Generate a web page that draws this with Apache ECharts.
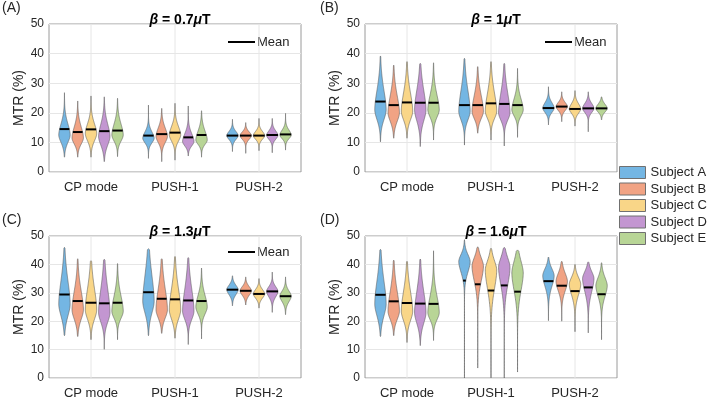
<!DOCTYPE html>
<html><head><meta charset="utf-8">
<script src="https://cdn.jsdelivr.net/npm/echarts@6/dist/echarts.min.js"></script>
<style>html,body{margin:0;padding:0;background:#fff}#c{width:709px;height:400px}</style>
</head><body><div id="c"></div>
<script>
const categories = ['CP mode', 'PUSH-1', 'PUSH-2'];
const subjects = ['Subject A', 'Subject B', 'Subject C', 'Subject D', 'Subject E'];
const subjectColors = ['#74b6e3', '#f1a384', '#f9d688', '#c396d1', '#b8d596'];
const panelLabels = ['(A)', '(B)', '(C)', '(D)'];
const panelB1 = ['0.7', '1', '1.3', '1.6'];
const yMin = 0, yMax = 50, yStep = 10;

// rows: [group, subject, min, halfLow, mode, halfHigh, max, mean]
const violinsA = [
  [0,0, 5.0, 9.5,12.5,17.0,26.8,14.5],
  [0,1, 5.0, 9.0,11.5,16.0,24.0,13.5],
  [0,2, 5.0,10.0,13.0,17.0,25.7,14.4],
  [0,3, 3.5, 8.5,12.0,17.0,25.4,13.8],
  [0,4, 5.2,10.0,12.5,17.0,24.9,14.0],
  [1,0, 4.6, 9.5,11.4,14.0,22.6,12.3],
  [1,1, 3.5, 9.5,12.0,15.5,21.5,12.8],
  [1,2, 4.0,10.0,12.5,16.0,23.2,13.3],
  [1,3, 5.4, 8.5,10.3,13.5,22.3,11.7],
  [1,4, 5.0, 9.0,10.8,14.5,20.7,12.5],
  [2,0, 6.9,10.7,12.3,14.0,17.8,12.3],
  [2,1, 6.3,10.8,12.3,13.8,16.7,12.3],
  [2,2, 7.2,10.8,12.3,14.0,18.1,12.3],
  [2,3, 6.5,10.8,12.4,14.2,18.1,12.5],
  [2,4, 7.4,11.0,12.5,14.5,19.8,12.7]
];
const violinsB = [
  [0,0,10.2,17.0,21.0,29.0,39.2,23.8],
  [0,1,11.4,16.5,20.0,27.0,36.1,22.6],
  [0,2,11.4,17.0,20.5,28.0,37.3,23.5],
  [0,3, 8.6,16.5,21.0,29.0,36.7,23.4],
  [0,4,10.8,18.0,21.0,27.0,36.9,23.4],
  [1,0, 9.1,17.0,20.5,29.0,38.4,22.6],
  [1,1,13.1,17.5,20.5,27.0,35.6,22.6],
  [1,2,10.8,17.5,20.5,28.0,37.3,23.2],
  [1,3, 8.8,17.0,20.0,28.0,36.7,23.0],
  [1,4,11.7,18.5,21.0,25.5,35.0,22.6],
  [2,0,15.9,19.8,21.6,23.8,28.8,21.6],
  [2,1,17.0,20.5,22.1,23.8,27.1,22.1],
  [2,2,15.5,19.5,21.3,23.5,27.5,21.3],
  [2,3,13.6,19.8,21.5,23.5,27.1,21.5],
  [2,4,17.6,20.0,21.5,23.2,25.4,21.5]
];
const violinsC = [
  [0,0,14.9,21.0,26.0,36.0,46.0,29.4],
  [0,1,14.6,20.0,24.0,32.0,42.0,27.1],
  [0,2,13.5,20.0,24.0,33.0,41.3,26.5],
  [0,3,10.1,19.0,23.0,33.0,41.8,26.3],
  [0,4,13.5,20.5,23.5,30.0,40.3,26.5],
  [1,0,14.9,22.0,27.0,38.0,45.5,30.2],
  [1,1,15.7,20.5,24.0,33.0,42.0,27.9],
  [1,2,14.0,20.0,24.0,33.0,42.8,27.7],
  [1,3,11.8,20.0,23.5,33.0,42.4,27.3],
  [1,4,13.8,22.0,25.0,30.0,38.7,27.1],
  [2,0,25.4,29.0,31.1,33.0,36.0,31.1],
  [2,1,25.7,28.8,30.7,32.5,35.6,30.7],
  [2,2,24.6,27.8,29.6,31.5,35.0,29.6],
  [2,3,23.1,28.2,30.5,32.5,37.3,30.5],
  [2,4,22.3,26.5,28.8,31.0,35.6,28.8]
];
const violinsD = [
  [0,0,14.6,21.0,26.0,36.0,45.3,29.3],
  [0,1,14.9,20.0,23.5,32.0,41.5,27.0],
  [0,2,12.5,19.5,23.5,32.0,41.1,26.4],
  [0,3,11.4,18.5,23.0,32.0,41.9,26.2],
  [0,4,13.2,20.0,23.0,30.0,44.8,26.1],
  [1,0, 0.0,36.5,41.0,44.0,48.7,34.3],
  [1,1, 3.5,33.0,39.4,43.0,46.2,33.0],
  [1,2, 0.0,30.0,38.0,42.0,45.7,30.8],
  [1,3, 0.0,31.5,39.0,43.0,46.0,32.6],
  [1,4, 2.1,29.5,37.0,42.0,45.1,30.4],
  [2,0,20.2,31.5,36.0,39.0,42.6,34.1],
  [2,1,20.0,30.0,34.0,37.5,41.1,32.5],
  [2,2,16.3,28.5,33.0,36.0,40.0,30.6],
  [2,3,15.9,29.5,35.0,38.0,40.9,31.9],
  [2,4,13.5,28.0,32.5,36.0,40.6,29.5]
];
const panels = [violinsA, violinsB, violinsC, violinsD];

const FONT = 'Liberation Sans, Arial, Helvetica, sans-serif';
const TXT = '#262626';
const grids = [
  {left: 49, top: 24, width: 252, height: 148},
  {left: 365, top: 24, width: 252, height: 148},
  {left: 49, top: 236, width: 252, height: 147},
  {left: 365, top: 236, width: 252, height: 147}
];

function profile(v, hl, md, hh) {
  const d = v - md;
  const s = d < 0 ? (md - hl) : (hh - md);
  return Math.exp(-Math.LN2 * Math.pow(Math.abs(d) / s, 1.8));
}

function makeViolinRender(sIdx) {
  return function (params, api) {
    const g = api.value(0), mn = api.value(1), hl = api.value(2), md = api.value(3),
          hh = api.value(4), mx = api.value(5), mean = api.value(6);
    const base = api.coord([g, 0]);
    const band = api.size([1, 0])[0];
    const cx = base[0] + (sIdx - 2) * 0.158 * band;
    const hw = 0.068 * band;
    const N = 90, right = [], left = [];
    for (let i = 0; i <= N; i++) {
      const v = mn + (mx - mn) * i / N;
      const w = (i === 0 || i === N) ? 0 : profile(v, hl, md, hh);
      const py = api.coord([g, v])[1];
      right.push([cx + hw * w, py]);
      left.push([cx - hw * w, py]);
    }
    const pts = right.concat(left.reverse());
    const wm = hw * profile(mean, hl, md, hh);
    const my = api.coord([g, mean])[1];
    return {
      type: 'group',
      children: [
        {type: 'polygon', shape: {points: pts}, style: {fill: subjectColors[sIdx], stroke: '#5e5e5e', lineWidth: 0.6}},
        {type: 'line', shape: {x1: cx - wm, y1: my, x2: cx + wm, y2: my}, style: {stroke: '#000', lineWidth: 2}}
      ]
    };
  };
}

function vgridRender(params, api) {
  const p0 = api.coord([api.value(0), yMin]);
  const p1 = api.coord([api.value(0), yMax]);
  return {type: 'line', shape: {x1: p0[0], y1: p0[1], x2: p1[0], y2: p1[1]}, style: {stroke: '#e6e6e6', lineWidth: 1}};
}

const xAxis = [], yAxis = [], series = [], title = [];
grids.forEach((g, p) => {
  xAxis.push({
    type: 'category', gridIndex: p, data: categories,
    axisLine: {show: false}, axisTick: {show: false}, splitLine: {show: false},
    axisLabel: {fontSize: 13, color: TXT, fontFamily: FONT, margin: 9}
  });
  yAxis.push({
    type: 'value', gridIndex: p, min: yMin, max: yMax, interval: yStep,
    axisLine: {show: false}, axisTick: {show: false},
    splitLine: {lineStyle: {color: '#e6e6e6', width: 1}},
    axisLabel: {fontSize: 12, color: TXT, fontFamily: FONT, margin: 5},
    name: 'MTR (%)', nameLocation: 'middle', nameGap: 23,
    nameTextStyle: {fontSize: 14, color: TXT, fontFamily: FONT}
  });
  series.push({
    type: 'custom', name: 'vgrid' + p, xAxisIndex: p, yAxisIndex: p, silent: true, z: 1,
    data: categories.map((c, i) => [i, 0]), renderItem: vgridRender
  });
  subjects.forEach((s, sIdx) => {
    series.push({
      type: 'custom', name: s, xAxisIndex: p, yAxisIndex: p, z: 3, clip: true,
      itemStyle: {color: subjectColors[sIdx]},
      encode: {x: 0, y: [1, 5]},
      data: panels[p].filter(r => r[1] === sIdx).map(r => [r[0], r[2], r[3], r[4], r[5], r[6], r[7]]),
      renderItem: makeViolinRender(sIdx)
    });
  });
  title.push({
    text: '{g|β} = ' + panelB1[p] + '{g|μ}T',
    left: g.left + g.width / 2, top: g.top - 16, textAlign: 'center',
    textStyle: {
      fontSize: 14, fontWeight: 'bold', color: '#000', fontFamily: FONT,
      rich: {g: {fontSize: 14, fontStyle: 'italic', fontWeight: 'bold', color: '#000', fontFamily: FONT}}
    }
  });
});

const graphic = [];
const labelPos = [[2, 9], [320, 9], [2, 221], [320, 221]];
panelLabels.forEach((t, i) => {
  graphic.push({type: 'text', left: labelPos[i][0], top: labelPos[i][1] - 8,
    style: {text: t, fontSize: 14, fill: TXT, fontFamily: FONT}});
});
const meanLeg = [[228, 42], [545, 42], [228, 252]];
meanLeg.forEach(m => {
  graphic.push({type: 'line', shape: {x1: m[0], y1: m[1], x2: m[0] + 27, y2: m[1]}, style: {stroke: '#000', lineWidth: 2}});
  graphic.push({type: 'text', x: m[0] + 29, y: m[1], style: {text: 'Mean', fontSize: 13, fill: TXT, fontFamily: FONT, textVerticalAlign: 'middle'}});
});

const chart = echarts.init(document.getElementById('c'), null, {renderer: 'canvas'});
chart.setOption({
  backgroundColor: '#fff',
  animation: false,
  title: title,
  grid: grids.map(g => Object.assign({show: true, borderColor: '#9a9a9a', borderWidth: 1, backgroundColor: 'transparent'}, g)),
  xAxis: xAxis,
  yAxis: yAxis,
  legend: {
    data: subjects, orient: 'vertical', left: 619, top: 166, padding: 0,
    itemWidth: 26, itemHeight: 12, itemGap: 3.5, icon: 'rect',
    textStyle: {fontSize: 13, color: TXT, fontFamily: FONT},
    itemStyle: {borderColor: '#707070', borderWidth: 1},
    selectedMode: false
  },
  series: series,
  graphic: graphic
});
</script></body></html>
